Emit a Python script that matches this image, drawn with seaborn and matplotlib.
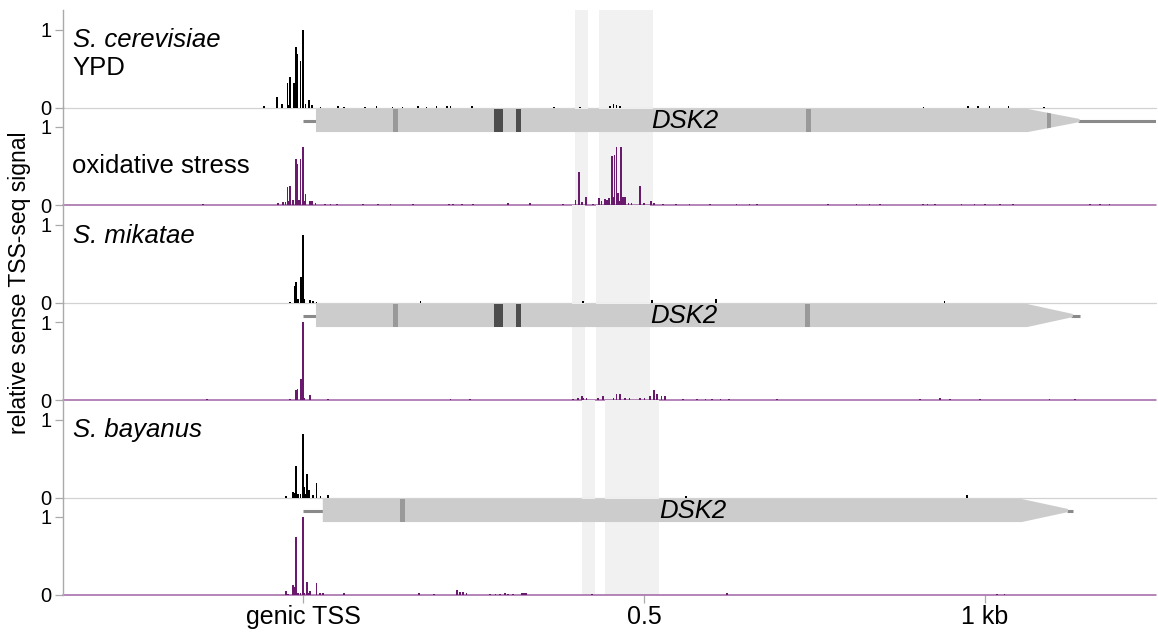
import matplotlib
matplotlib.use("Agg")
import matplotlib.pyplot as plt
import matplotlib.patches as mpatches
import seaborn as sns

# ---- data (positions in bp relative to genic TSS, values = relative signal) ----
cer_ypd_pos = [-57, -38, -31, -23, -21, -19, -13, -10, -8, -4, 0, 4, 9, 13,
               26, 51, 60, 91, 108, 131, 146, 169, 181, 196, 211, 216, 248, 368,
               406, 450, 455, 460, 465, 910, 975, 990, 1007, 1035, 1087]
cer_ypd_val = [0.015, 0.14, 0.05, 0.31, 0.03, 0.39, 0.31, 0.77, 0.68, 0.59, 1.0, 0.05, 0.1, 0.03,
               0.01, 0.015, 0.01, 0.01, 0.015, 0.01, 0.01, 0.015, 0.01, 0.015, 0.02, 0.015, 0.015, 0.01,
               0.01, 0.02, 0.04, 0.03, 0.015, 0.01, 0.015, 0.02, 0.015, 0.02, 0.01]

cer_ox_pos = [-147, -37, -29, -26, -23, -21, -19, -15, -10, -8, -6, -4, 0, 2, 4, 10, 13, 18,
              32, 40, 50, 88, 110, 128, 161, 214, 220, 233, 249, 301, 333, 381,
              400, 405, 409, 415, 425, 434, 438, 443, 446, 449, 453, 455, 457, 460, 462, 464,
              466, 469, 472, 477, 482, 494, 500, 510, 515, 528,
              547, 567, 597, 636, 655, 666, 770, 812, 831, 846, 909, 916, 927, 966, 985,
              1000, 1022, 1041, 1154, 1169, 1183]
cer_ox_val = [0.01, 0.03, 0.04, 0.04, 0.23, 0.05, 0.25, 0.07, 0.59, 0.52, 0.07, 0.59, 0.74, 0.05, 0.14, 0.05, 0.05, 0.02,
              0.015, 0.01, 0.01, 0.01, 0.01, 0.01, 0.01, 0.015, 0.015, 0.01, 0.01, 0.02, 0.03, 0.01,
              0.06, 0.42, 0.04, 0.10, 0.01, 0.09, 0.05, 0.08, 0.06, 0.09, 0.63, 0.10, 0.64, 0.74, 0.15, 0.05,
              0.75, 0.10, 0.10, 0.03, 0.03, 0.25, 0.03, 0.05, 0.03, 0.01,
              0.01, 0.01, 0.01, 0.015, 0.01, 0.01, 0.01, 0.01, 0.015, 0.01, 0.01, 0.015, 0.01, 0.015, 0.01,
              0.01, 0.01, 0.01, 0.01, 0.01, 0.01]

mik_ypd_pos = [-19, -12, -10, -7, -3, 0, 2, 10, 15, 20, 172, 411, 512, 606, 941]
mik_ypd_val = [0.01, 0.21, 0.26, 0.05, 0.33, 0.86, 0.04, 0.03, 0.02, 0.01, 0.015, 0.015, 0.03, 0.04, 0.015]

mik_ox_pos = [-141, -19, -10, -8, -3, 0, 2, 10, 37, 216, 245,
              396, 403, 409, 411, 416, 433, 440, 455, 460, 465, 472, 479, 494, 501, 509,
              515, 519, 526, 531, 557, 578, 590, 600, 612, 625, 695, 905, 934, 949, 993,
              1095, 1132]
mik_ox_val = [0.01, 0.01, 0.13, 0.14, 0.27, 1.0, 0.03, 0.06, 0.01, 0.01, 0.01,
              0.01, 0.02, 0.05, 0.03, 0.02, 0.02, 0.05, 0.03, 0.08, 0.08, 0.02, 0.02, 0.02, 0.03, 0.05,
              0.13, 0.08, 0.05, 0.05, 0.01, 0.01, 0.015, 0.01, 0.015, 0.01, 0.01, 0.01, 0.02, 0.01, 0.01,
              0.01, 0.01]

bay_ypd_pos = [-25, -15, -12, -10, -7, -4, 0, 2, 4, 6, 9, 15, 20, 26, 37, 562, 974]
bay_ypd_val = [0.02, 0.07, 0.06, 0.40, 0.04, 0.05, 0.82, 0.14, 0.04, 0.30, 0.09, 0.03, 0.18, 0.02, 0.03, 0.02, 0.03]

bay_ox_pos = [-25, -22, -15, -12, -10, -7, -4, 0, 2, 6, 8, 10, 20, 25, 29, 60,
              170, 192, 226, 230, 235, 240, 274, 282, 289, 296, 301, 308, 321, 324, 327,
              424, 622, 1018, 1029]
bay_ox_val = [0.05, 0.01, 0.13, 0.10, 0.74, 0.03, 0.02, 1.0, 0.02, 0.17, 0.03, 0.05, 0.15, 0.02, 0.02, 0.03,
              0.03, 0.01, 0.06, 0.04, 0.04, 0.02, 0.01, 0.01, 0.01, 0.02, 0.01, 0.01, 0.03, 0.03, 0.03,
              0.01, 0.02, 0.01, 0.01]

# gene models: [5' end, ORF start, arrow shoulder, arrow tip, 3' end]
cer_gene = [0, 19, 1063, 1139, 1251]
mik_gene = [0, 19, 1062, 1129, 1139]
bay_gene = [0, 29, 1054, 1122, 1130]
cer_marks_mid = [(132, 139), (738, 745), (1091, 1097)]
cer_marks_dark = [(280, 293), (312, 320)]
mik_marks_mid = [(132, 139), (736, 743)]
mik_marks_dark = [(280, 293), (312, 320)]
bay_marks_mid = [(142, 150)]
bay_marks_dark = []
gene_label_x = [560, 559, 571]

# shaded windows per species
cer_bands = [(399, 418), (434, 513)]
mik_bands = [(394, 413), (430, 509)]
bay_bands = [(409, 428), (443, 522)]

species = ["S. cerevisiae", "S. mikatae", "S. bayanus"]
xtick_pos = [0, 500, 1000]
xtick_labels = ["genic TSS", "0.5", "1 kb"]

# ---- style ----
sns.set_theme(style="white")
plt.rcParams['font.family'] = ['Liberation Sans', 'DejaVu Sans']
plt.rcParams['text.color'] = 'black'
plt.rcParams['xtick.labelcolor'] = 'black'
plt.rcParams['ytick.labelcolor'] = 'black'

PURPLE = "#6a1a6d"
PURPLE_BASE = "#a065a4"
GRAY_BASE = "#d2d2d2"
AXIS_GRAY = "#aaaaaa"
BAND = "#f1f1f1"

fig = plt.figure(figsize=(11.58, 6.33), dpi=100)
gs = fig.add_gridspec(6, 1, left=63 / 1158, right=1156 / 1158,
                      bottom=1 - 595 / 633, top=1 - 10 / 633, hspace=0)
axes = [fig.add_subplot(gs[i, 0]) for i in range(6)]

tracks = [(cer_ypd_pos, cer_ypd_val, "black", GRAY_BASE),
          (cer_ox_pos, cer_ox_val, PURPLE, PURPLE_BASE),
          (mik_ypd_pos, mik_ypd_val, "black", GRAY_BASE),
          (mik_ox_pos, mik_ox_val, PURPLE, PURPLE_BASE),
          (bay_ypd_pos, bay_ypd_val, "black", GRAY_BASE),
          (bay_ox_pos, bay_ox_val, PURPLE, PURPLE_BASE)]
bands = [cer_bands, mik_bands, bay_bands]
genes = [(cer_gene, cer_marks_mid, cer_marks_dark),
         (mik_gene, mik_marks_mid, mik_marks_dark),
         (bay_gene, bay_marks_mid, bay_marks_dark)]

for i, (ax, (pos, val, col, base)) in enumerate(zip(axes, tracks)):
    for b0, b1 in bands[i // 2]:
        ax.axvspan(b0, b1, color=BAND, lw=0, zorder=0)
    ax.bar(pos, val, width=2.2, color=col, linewidth=0, align="center", zorder=2)
    ax.axhline(0, color=base, lw=0.9 if col == "black" else 1.1, zorder=1, clip_on=False)
    ax.set_xlim(-352, 1251)
    ax.set_ylim(0, 1.25)
    ax.set_yticks([0, 1])
    ax.set_yticklabels(["0", "1"])
    ax.tick_params(axis="y", length=5.5, width=0.9, color=AXIS_GRAY, pad=3,
                   labelsize=14.5, left=True)
    for s in ["top", "right", "bottom"]:
        ax.spines[s].set_visible(False)
    ax.spines["left"].set_color(AXIS_GRAY)
    ax.spines["left"].set_linewidth(1.0)
    if i < 5:
        ax.set_xticks([])
    else:
        ax.set_xticks(xtick_pos)
        ax.set_xticklabels(xtick_labels)
        ax.tick_params(axis="x", length=5.5, width=0.9, color=AXIS_GRAY, pad=1.5,
                       labelsize=18, bottom=True)
    ax.patch.set_alpha(0)

# gene annotations drawn in the top area of each oxidative-stress track
yc, hh = 1.083, 0.148
for k, (bounds, mids, darks) in enumerate(genes):
    ax = axes[2 * k + 1]
    g0, b0, sh, tip, g1 = bounds
    ax.plot([g0, b0], [yc, yc], color="#8a8a8a", lw=2.2, solid_capstyle="butt", zorder=3)
    ax.plot([tip - 2, g1], [yc, yc], color="#8a8a8a", lw=2.2, solid_capstyle="butt", zorder=3)
    arrow = mpatches.Polygon([(b0, yc - hh), (sh, yc - hh), (tip, yc - 0.02), (tip, yc + 0.02),
                              (sh, yc + hh), (b0, yc + hh)], closed=True,
                             facecolor="#cccccc", edgecolor="none", zorder=4)
    ax.add_patch(arrow)
    for marks, mc in [(mids, "#999999"), (darks, "#4d4d4d")]:
        for m0, m1 in marks:
            r = mpatches.Rectangle((m0, yc - hh), m1 - m0, 2 * hh, facecolor=mc,
                                   edgecolor="none", zorder=5)
            ax.add_patch(r)
            r.set_clip_path(arrow)
    ax.text(gene_label_x[k], yc, "DSK2", fontsize=18.5, fontstyle="italic",
            ha="center", va="center", zorder=6)

# panel labels
axes[0].text(0.009, 0.62, species[0], transform=axes[0].transAxes, fontsize=18.5,
             fontstyle="italic", va="baseline")
axes[0].text(0.009, 0.333, "YPD", transform=axes[0].transAxes, fontsize=18.5, va="baseline")
axes[1].text(0.008, 0.328, "oxidative stress", transform=axes[1].transAxes, fontsize=18.5,
             va="baseline")
axes[2].text(0.009, 0.61, species[1], transform=axes[2].transAxes, fontsize=18.5,
             fontstyle="italic", va="baseline")
axes[4].text(0.009, 0.62, species[2], transform=axes[4].transAxes, fontsize=18.5,
             fontstyle="italic", va="baseline")

fig.text(20 / 1158, 1 - 283 / 633, "relative sense TSS-seq signal", rotation=90,
         fontsize=16.5, ha="center", va="center")

fig.savefig("out.png", dpi=100)
